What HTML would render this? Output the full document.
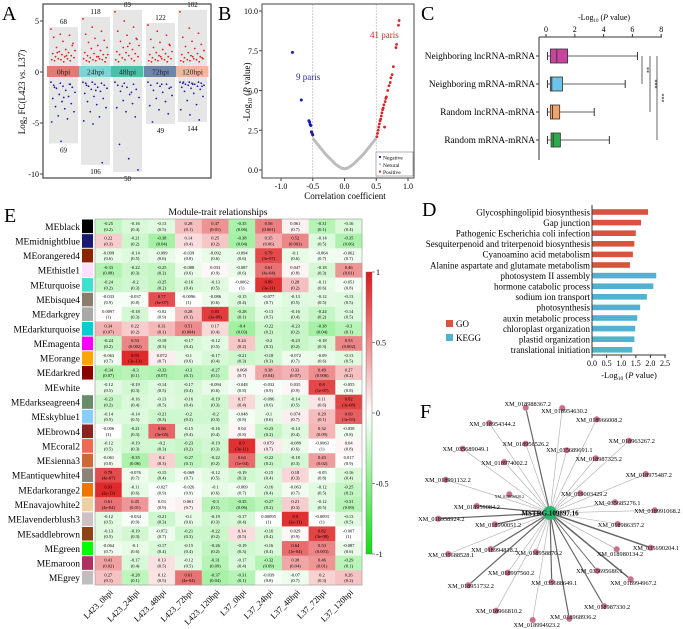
<!DOCTYPE html>
<html><head><meta charset="utf-8"><style>
html,body{margin:0;padding:0;background:#fff;}
svg{display:block;font-family:"Liberation Serif",serif;}
</style></head><body>
<svg id="fig" width="683" height="629" viewBox="0 0 683 629" xmlns="http://www.w3.org/2000/svg"></svg>
<script>
// ---------- Panel A data ----------
const aGroups=["0hpi","24hpi","48hpi","72hpi","120hpi"];
const aUpCounts=[68,118,89,122,102];
const aDownCounts=[69,106,58,49,144];
const aUp0=[4.2,3.7,3.6,3.4,3.0,2.6,2.4,2.2,2.1,2.0,1.9,1.8,1.7,1.6,1.5,1.5,1.4,1.3,1.3,1.2,1.2,1.1,1.1,1.0,2.8,1.9,1.6];
const aDown0=[-1.0,-1.1,-1.2,-1.3,-1.4,-1.5,-1.6,-1.8,-2.0,-2.2,-2.4,-2.6,-2.9,-3.1,-3.4,-3.6,-3.9,-4.3,-4.6,-4.9,-6.8,-1.2,-1.5,-2.5];
const aUp1=[5.2,4.4,4.0,3.7,3.3,3.1,2.9,2.6,2.4,2.3,2.1,1.9,1.8,1.7,1.6,1.5,1.4,1.4,1.3,1.3,1.2,1.2,1.1,1.1,1.0,1.0,1.5,1.7];
const aDown1=[-1.0,-1.0,-1.1,-1.1,-1.2,-1.3,-1.4,-1.5,-1.6,-1.7,-1.9,-2.1,-2.4,-2.6,-2.9,-3.2,-3.5,-3.9,-4.4,-4.8,-5.1,-8.9,-1.3,-1.8];
const aUp2=[5.9,5.0,4.4,4.0,3.6,3.3,3.0,2.8,2.6,2.4,2.2,2.0,1.9,1.8,1.7,1.6,1.5,1.4,1.3,1.2,1.2,1.1,1.0,2.5,3.2];
const aDown2=[-1.0,-1.1,-1.2,-1.3,-1.5,-1.7,-1.9,-2.2,-2.5,-2.8,-3.1,-3.5,-3.9,-4.4,-7.1,-8.5,-9.6,-1.4,-2.0];
const aUp3=[4.6,4.0,3.6,3.2,2.9,2.7,2.4,2.2,2.0,1.9,1.8,1.7,1.6,1.5,1.4,1.3,1.3,1.2,1.2,1.1,1.1,1.0,1.0,1.5,2.6];
const aDown3=[-1.0,-1.1,-1.2,-1.3,-1.4,-1.6,-1.8,-2.0,-2.3,-2.6,-2.9,-3.3,-3.7,-4.1,-4.9,-1.2,-1.5];
const aUp4=[5.9,4.3,3.8,3.4,3.0,2.7,2.5,2.3,2.1,1.9,1.8,1.7,1.6,1.5,1.4,1.3,1.3,1.2,1.2,1.1,1.1,1.0,1.0,1.5,1.4];
const aDown4=[-1.0,-1.0,-1.0,-1.1,-1.1,-1.1,-1.2,-1.2,-1.3,-1.3,-1.4,-1.5,-1.6,-1.7,-1.9,-2.1,-2.4,-2.8,-3.2,-3.7,-4.2,-4.7,-1.0,-1.2,-1.4];
const aTicks=[5,0,-5,-10];
// ---------- Panel B data ----------
const bNeutralR=[-0.5,-0.45,-0.4,-0.35,-0.3,-0.25,-0.2,-0.15,-0.1,-0.05,0,0.05,0.1,0.15,0.2,0.25,0.3,0.35,0.4,0.45,0.5];
const bNeutralP=[2.0,1.75,1.5,1.25,1.0,0.8,0.6,0.4,0.25,0.12,0.08,0.12,0.25,0.4,0.6,0.8,1.0,1.25,1.5,1.75,2.0];
const bNegR=[-0.82,-0.68,-0.56,-0.55,-0.54,-0.53,-0.52,-0.51,-0.5];
const bNegP=[7.4,4.4,3.1,3.0,2.85,2.8,2.4,2.3,2.2];
const bPosR=[0.51,0.52,0.53,0.54,0.55,0.56,0.57,0.58,0.59,0.6,0.61,0.62,0.63,0.64,0.65,0.66,0.68,0.7,0.72,0.73,0.75,0.77,0.81,0.82,0.85,0.86];
const bPosP=[2.1,2.3,2.5,2.7,2.9,3.1,3.2,3.4,3.6,3.8,3.9,4.1,2.7,4.3,4.5,4.6,5.0,5.3,5.5,5.8,6.0,6.5,7.7,7.9,9.1,9.4];
const bXTicks=[-1.0,-0.5,0.0,0.5,1.0];
const bYTicks=[0,2.5,5,7.5,10];
// ---------- Panel C data ----------
const cCats=["Neighboring lncRNA-mRNA","Neighboring mRNA-mRNA","Random lncRNA-mRNA","Random mRNA-mRNA"];
const cMin=[0.1,0.1,0.1,0.1];
const cQ1=[0.3,0.3,0.3,0.35];
const cMed=[0.75,0.4,0.45,0.5];
const cQ3=[1.5,1.15,0.95,1.0];
const cMax=[6.35,5.5,3.35,4.4];
const cTicks=[0,2,4,6,8];
const cSig=["**","***","***"];
// ---------- Panel D data ----------
const dTerms=["Glycosphingolipid biosynthesis","Gap junction","Pathogenic Escherichia coli infection","Sesquiterpenoid and triterpenoid biosynthesis","Cyanoamino acid metabolism","Alanine aspartate and glutamate metabolism","photosystem II assembly","hormone catabolic process","sodium ion transport","photosynthesis","auxin metabolic process","chloroplast organization","plastid organization","translational initiation"];
const dValues=[1.92,1.68,1.5,1.45,1.4,1.3,2.2,2.1,1.88,1.65,1.55,1.48,1.45,1.38];
const dTypes=["KEGG","KEGG","KEGG","KEGG","KEGG","KEGG","GO","GO","GO","GO","GO","GO","GO","GO"];
const dTicks=[0,0.5,1,1.5,2,2.5];
// ---------- Panel E data ----------
const eModules=["MEblack","MEmidnightblue","MEorangered4","MEthistle1","MEturquoise","MEbisque4","MEdarkgrey","MEdarkturquoise","MEmagenta","MEorange","MEdarkred","MEwhite","MEdarkseagreen4","MEskyblue1","MEbrown4","MEcoral2","MEsienna3","MEantiquewhite4","MEdarkorange2","MEnavajowhite2","MElavenderblush3","MEsaddlebrown","MEgreen","MEmaroon","MEgrey"];
const eSwatch=["#000000","#191970","#8b2500","#ffe1ff","#40e0d0","#8b7d6b","#a9a9a9","#00ced1","#ff00ff","#ffa500","#8b0000","#ffffff","#698b69","#87ceff","#8b2323","#ee6a50","#cd6839","#8b8378","#ee7600","#eecfa1","#cdc1c5","#8b4513","#00ff00","#b03060","#bebebe"];
const eTraits=["L423_0hpi","L423_24hpi","L423_48hpi","L423_72hpi","L423_120hpi","L37_0hpi","L37_24hpi","L37_48hpi","L37_72hpi","L37_120hpi"];
const eCorr=[
[-0.25,-0.16,-0.13,0.28,0.47,-0.35,0.56,0.061,-0.31,-0.16],
[0.22,-0.21,-0.38,0.14,0.25,-0.38,0.35,0.52,-0.14,-0.35],
[-0.099,-0.14,-0.099,-0.039,-0.092,-0.094,0.79,-0.1,-0.064,-0.062],
[-0.33,-0.22,-0.25,-0.088,0.033,-0.087,0.61,0.047,-0.18,0.46],
[-0.24,-0.2,-0.25,-0.16,-0.13,-0.0062,0.89,0.28,-0.11,-0.051],
[-0.033,-0.037,0.77,-0.0096,-0.086,-0.15,-0.077,-0.13,-0.12,-0.13],
[0.0097,-0.18,-0.02,0.28,0.85,-0.28,-0.13,-0.16,-0.24,-0.14],
[0.34,0.22,0.31,0.51,0.17,-0.4,-0.22,-0.23,-0.38,-0.3],
[-0.24,0.53,-0.18,-0.17,-0.12,0.24,-0.2,-0.23,-0.18,0.53],
[-0.063,0.93,0.072,-0.1,-0.17,-0.21,-0.18,-0.072,-0.09,-0.13],
[-0.34,-0.3,-0.33,-0.3,-0.27,0.068,0.38,0.33,0.49,0.27],
[-0.12,-0.19,-0.14,-0.17,-0.094,-0.048,-0.032,0.035,0.8,-0.055],
[-0.23,-0.16,-0.13,-0.16,-0.19,0.17,-0.096,-0.14,0.11,0.82],
[-0.14,-0.14,-0.21,-0.2,-0.2,-0.048,-0.1,0.074,0.29,0.69],
[-0.006,-0.21,0.66,-0.15,-0.16,0.04,-0.23,-0.14,0.32,-0.058],
[-0.12,-0.19,-0.2,-0.23,-0.19,0.9,0.079,-0.089,-0.0063,0.04],
[-0.061,-0.35,0.2,-0.27,-0.22,0.64,-0.22,-0.18,0.43,0.017],
[0.78,-0.076,-0.15,-0.069,-0.12,-0.19,-0.15,0.18,-0.05,-0.16],
[0.93,-0.11,-0.027,-0.026,-0.1,-0.069,-0.16,-0.063,-0.12,-0.25],
[0.61,0.45,0.03,0.061,-0.3,-0.35,-0.27,0.21,-0.12,-0.31],
[-0.12,-0.034,-0.21,-0.1,-0.19,-0.17,0.00095,0.9,-0.0093,-0.13],
[-0.13,-0.19,-0.072,-0.21,-0.22,0.14,-0.16,0.029,0.82,-0.007],
[-0.064,-0.1,-0.17,-0.15,-0.26,-0.19,-0.16,0.64,0.53,-0.087],
[0.41,-0.17,0.13,-0.12,-0.31,-0.17,-0.32,0.38,0.46,-0.29],
[0.27,-0.28,0.12,0.61,-0.37,-0.31,-0.039,-0.07,0.2,0.26]];
const ePval=[
["0.2","0.4","0.5","0.1","0.01","0.06","0.001","0.7","0.1","0.4"],
["0.3","0.2","0.04","0.4","0.2","0.04","0.06","0.003","0.5","0.06"],
["0.6","0.5","0.6","0.8","0.6","0.6","3e-07","0.6","0.7","0.7"],
["0.08","0.3","0.2","0.6","0.9","0.6","4e-04","0.8","0.3","0.01"],
["0.2","0.3","0.2","0.4","0.5","1","3e-11","0.2","0.6","0.8"],
["0.9","0.8","6e-07","1","0.6","0.4","0.7","0.5","0.5","0.5"],
["1","0.3","0.9","0.1","3e-09","0.1","0.5","0.4","0.2","0.5"],
["0.07","0.2","0.1","0.004","0.4","0.03","0.2","0.2","0.04","0.1"],
["0.2","0.002","0.3","0.4","0.5","0.2","0.3","0.2","0.3","0.002"],
["0.7","3e-13","0.7","0.6","0.4","0.3","0.3","0.7","0.6","0.5"],
["0.07","0.1","0.07","0.1","0.1","0.7","0.04","0.07","0.006","0.2"],
["0.5","0.3","0.5","0.4","0.6","0.8","0.9","0.9","1e-07","0.8"],
["0.2","0.4","0.5","0.4","0.3","0.4","0.6","0.5","0.6","3e-08"],
["0.5","0.5","0.3","0.3","0.3","0.8","0.6","0.7","0.1","3e-05"],
["1","0.3","3e-05","0.4","0.4","0.8","0.2","0.4","0.09","0.8"],
["0.5","0.3","0.3","0.2","0.3","3e-11","0.7","0.6","1","0.8"],
["0.8","0.06","0.3","0.1","0.2","1e-04","0.2","0.3","0.02","0.9"],
["4e-07","0.7","0.4","0.7","0.5","0.3","0.4","0.3","0.8","0.4"],
["2e-13","0.6","0.9","0.9","0.6","0.7","0.4","0.7","0.5","0.2"],
["4e-04","0.01","0.9","0.7","0.1","0.06","0.2","0.3","0.5","0.09"],
["0.5","0.9","0.3","0.6","0.3","0.4","1","2e-11","1","0.5"],
["0.5","0.3","0.7","0.3","0.2","0.5","0.4","0.9","3e-08","1"],
["0.7","0.6","0.4","0.4","0.2","0.3","0.4","1e-04","0.003","0.6"],
["0.02","0.4","0.5","0.5","0.09","0.4","0.09","0.04","0.01","0.1"],
["0.1","0.1","0.5","4e-04","0.04","0.1","0.8","0.7","0.3","0.2"]];
const eBarTicks=[1,0.5,0,-0.5,-1];
// ---------- Panel F data ----------
const fHub="MSTRG.109897.16";
const fNodes=["XM_018988367.2","XM_018954630.2","XM_018966008.2","XM_018954344.2","XM_018963267.2","XM_035689049.1","XM_018956526.2","XM_035689691.1","XM_018987325.2","XM_018974002.2","XM_018975487.2","XM_018991132.2","XM_018956920.2","XM_019003429.2","XM_035685276.1","XM_018959084.2","XM_018991068.2","XM_018958924.2","XM_018990051.2","XM_018986357.2","XM_035690204.1","XM_018980134.2","XM_018994818.2","XM_018958870.2","XM_035688528.1","XM_018997560.2","XM_035695686.1","XM_018994967.2","XM_018951732.2","XM_035688649.1","XM_018987330.2","XM_018966810.2","XM_018968936.2","XM_018994923.2"];
const fWeights=[2,1,1,1,1,1,1,1,1,1,1,1,1,1,1,2,1,2,2,1,2.5,1,2,1,1,1,1.5,2.5,2,2,2,1,2,1];

const svg=document.getElementById('fig');
const NS="http://www.w3.org/2000/svg";
function mk(tag,attrs,parent,txt){const e=document.createElementNS(NS,tag);for(const k in attrs)e.setAttribute(k,attrs[k]);if(txt!==undefined)e.textContent=txt;(parent||svg).appendChild(e);return e;}
function grp(name){const g=mk('g',{});


return g;}

// ================= PANEL A =================
(function(){
const g=grp('panel-a-scatter');
const yA=v=>72-v*10.2;
const colL=[49,81,113,146,178],colW=29;
const stripColors=["#e07b73","#7fd3d6","#4bbfa8","#6f86ab","#f1b5a0"];
const ups=[aUp0,aUp1,aUp2,aUp3,aUp4],downs=[aDown0,aDown1,aDown2,aDown3,aDown4];
const pl=mk('text',{x:2,y:20,'font-size':20},g,'A');


for(let c=0;c<5;c++){
  const top=Math.max(...ups[c])+0.2,bot=Math.min(...downs[c])-0.2;
  const bg=mk('rect',{x:colL[c],y:yA(top),width:colW,height:yA(bot)-yA(top),fill:'#e6e6e6'},g);
  
  
  ups[c].forEach((v,i)=>{const p=mk('circle',{cx:colL[c]+2+((i*37)%100)/100*(colW-4),cy:yA(v),r:0.9,fill:'#e0201c'},g);
    
    });
  downs[c].forEach((v,i)=>{const p=mk('circle',{cx:colL[c]+2+((i*37)%100)/100*(colW-4),cy:yA(v),r:0.9,fill:'#1c1ca8'},g);
    
    });
  const t1=mk('text',{x:colL[c]+colW/2,y:yA(top)-3,'font-size':7,'text-anchor':'middle'},g,String(aUpCounts[c]));
  
  
  const t2=mk('text',{x:colL[c]+colW/2,y:yA(bot)+9,'font-size':7,'text-anchor':'middle'},g,String(aDownCounts[c]));
  
  
  const sr=mk('rect',{x:c===0?47:colL[c]-2,y:66,width:c===0?34:32.5,height:11,fill:stripColors[c]},g);
  
  
  const st=mk('text',{x:colL[c]+colW/2,y:74.5,'font-size':7.5,'text-anchor':'middle',fill:'#222'},g,aGroups[c]);
  
  
}
const fr=mk('rect',{x:43,y:4,width:168,height:174,fill:'none',stroke:'#444','stroke-width':1.2},g);


aTicks.forEach(t=>{mk('line',{x1:40,x2:43,y1:yA(t),y2:yA(t),stroke:'#444'},g);
  const tl=mk('text',{x:39,y:yA(t)+3,'font-size':8,'text-anchor':'end'},g,String(t));
  
  });
const yt=mk('text',{x:0,y:0,'font-size':9,'text-anchor':'middle',transform:'translate(25,92) rotate(-90)'},g);


mk('tspan',{},yt,'Log');mk('tspan',{'font-size':6,dy:2},yt,'2');mk('tspan',{dy:-2},yt,' FC(L423 ');mk('tspan',{'font-style':'italic'},yt,'vs.');mk('tspan',{},yt,' L37)');
})();

// ================= PANEL B =================
(function(){
const g=grp('panel-b-volcano');
const x=r=>344.5+r*63.5,y=p=>170-p*15.9;
const pl=mk('text',{x:218,y:20,'font-size':20},g,'B');


[-0.5,0.5].forEach(v=>{const l=mk('line',{x1:x(v),x2:x(v),y1:4,y2:178,stroke:'#bbb','stroke-width':0.7,'stroke-dasharray':'2,1'},g);
  
  });
const pts=bNeutralR.map((r,i)=>x(r)+','+y(bNeutralP[i])).join(' ');
const nl=mk('polyline',{points:pts,fill:'none',stroke:'#bdbdbd','stroke-width':3,'stroke-linejoin':'round'},g);


bNegR.forEach((r,i)=>{const c=mk('circle',{cx:x(r),cy:y(bNegP[i]),r:1.5,fill:'#1c1ca8'},g);
  
  });
bPosR.forEach((r,i)=>{const c=mk('circle',{cx:x(r),cy:y(bPosP[i]),r:1.4,fill:'#d7262a'},g);
  
  });
const fr=mk('rect',{x:262,y:4,width:152,height:174,fill:'none',stroke:'#444','stroke-width':1},g);


bXTicks.forEach(t=>{mk('line',{x1:x(t),x2:x(t),y1:178,y2:181,stroke:'#444'},g);
  const tl=mk('text',{x:x(t),y:189,'font-size':8,'text-anchor':'middle'},g,t.toFixed(1));
  
  });
bYTicks.forEach(t=>{mk('line',{x1:259,x2:262,y1:y(t),y2:y(t),stroke:'#444'},g);
  const tl=mk('text',{x:258,y:y(t)+3,'font-size':8,'text-anchor':'end'},g,t.toFixed(1));
  
  });
const xt=mk('text',{x:345,y:199,'font-size':9,'text-anchor':'middle'},g,'Correlation coefficient');


const yt=mk('text',{x:0,y:0,'font-size':9,'text-anchor':'middle',transform:'translate(250,92) rotate(-90)'},g);


mk('tspan',{},yt,'-Log');mk('tspan',{'font-size':6,dy:2},yt,'10');mk('tspan',{dy:-2},yt,' (');mk('tspan',{'font-style':'italic'},yt,'P');mk('tspan',{},yt,' value)');
const a1=mk('text',{x:296,y:80,'font-size':9,fill:'#2a2aa8'},g,'9 paris');


const a2=mk('text',{x:370,y:38,'font-size':9,fill:'#d7262a'},g,'41 paris');


const lg=mk('rect',{x:376,y:152,width:37,height:24,fill:'#fff',stroke:'#666','stroke-width':0.5},g);


[["Negative","#1c1ca8"],["Netural","#bdbdbd"],["Positive","#d7262a"]].forEach((d,i)=>{
  mk('circle',{cx:380,cy:157+i*7.3,r:1.1,fill:d[1]},g);
  const t=mk('text',{x:383,y:159.5+i*7.3,'font-size':5.5},g,d[0]);
  
  });
})();

// ================= PANEL C =================
(function(){
const g=grp('panel-c-boxplot');
const x=v=>546+v*14.4;
const rowY=[56,84,112,140];
const cols=["#c9459c","#6ec3ea","#f0a26a","#2faa4a"];
const pl=mk('text',{x:421,y:20,'font-size':20},g,'C');


const tt=mk('text',{x:604,y:20,'font-size':8,'text-anchor':'middle'},g);


mk('tspan',{},tt,'-Log');mk('tspan',{'font-size':5,dy:2},tt,'10');mk('tspan',{dy:-2},tt,' (');mk('tspan',{'font-style':'italic'},tt,'P');mk('tspan',{},tt,' value)');
mk('line',{x1:539,x2:662,y1:37,y2:37,stroke:'#333'},g);
mk('line',{x1:539,x2:539,y1:37,y2:160,stroke:'#333'},g);
cTicks.forEach(t=>{mk('line',{x1:x(t),x2:x(t),y1:34,y2:37,stroke:'#333'},g);
  const tl=mk('text',{x:x(t),y:32,'font-size':8,'text-anchor':'middle'},g,String(t));
  
  });
cCats.forEach((c,i)=>{
  const cy=rowY[i];
  const lab=mk('text',{x:535,y:cy+3,'font-size':9.3,'text-anchor':'end'},g,c);
  
  
  mk('line',{x1:536,x2:539,y1:cy,y2:cy,stroke:'#333'},g);
  mk('line',{x1:x(cMin[i]),x2:x(cMax[i]),y1:cy,y2:cy,stroke:'#333','stroke-width':0.8},g);
  mk('line',{x1:x(cMin[i]),x2:x(cMin[i]),y1:cy-4,y2:cy+4,stroke:'#333'},g);
  mk('line',{x1:x(cMax[i]),x2:x(cMax[i]),y1:cy-4,y2:cy+4,stroke:'#333'},g);
  const b=mk('rect',{x:x(cQ1[i]),y:cy-7,width:x(cQ3[i])-x(cQ1[i]),height:14,fill:cols[i],stroke:'#333','stroke-width':0.8},g);
  
  
  mk('line',{x1:x(cMed[i]),x2:x(cMed[i]),y1:cy-7,y2:cy+7,stroke:'#333','stroke-width':0.9},g);
});
const sx=[642,650,657],sy1=[56,56,56],sy2=[84,112,140];
cSig.forEach((s,i)=>{
  mk('line',{x1:sx[i],x2:sx[i],y1:sy1[i],y2:sy2[i],stroke:'#555','stroke-width':0.9},g);
  const t=mk('text',{x:sx[i]+3,y:(sy1[i]+sy2[i])/2,'font-size':6,transform:`rotate(90 ${sx[i]+3} ${(sy1[i]+sy2[i])/2})`,'text-anchor':'middle'},g,s);
  
  
});
})();

// ================= PANEL D =================
(function(){
const g=grp('panel-d-enrichment');
const x=v=>592+v*29.2;
const y0=212,step=10.6;
const pl=mk('text',{x:422,y:216,'font-size':20},g,'D');


dTerms.forEach((t,i)=>{
  const cy=y0+i*step;
  const lab=mk('text',{x:590,y:cy+3.3,'font-size':9,'text-anchor':'end'},g,t);
  
  
  const b=mk('rect',{x:x(0),y:cy-2.8,width:x(dValues[i])-x(0),height:5.6,fill:dTypes[i]==="KEGG"?'#d9533f':'#4fb3d0'},g);
  
  
});
mk('line',{x1:592,x2:592,y1:205,y2:355,stroke:'#333'},g);
mk('line',{x1:592,x2:666,y1:355,y2:355,stroke:'#333'},g);
dTicks.forEach(t=>{mk('line',{x1:x(t),x2:x(t),y1:355,y2:358,stroke:'#333'},g);
  const tl=mk('text',{x:x(t),y:366,'font-size':8,'text-anchor':'middle'},g,t.toFixed(1));
  
  });
const xt=mk('text',{x:629,y:378,'font-size':8.5,'text-anchor':'middle'},g);


mk('tspan',{},xt,'-Log');mk('tspan',{'font-size':5.5,dy:2},xt,'10');mk('tspan',{dy:-2},xt,' (');mk('tspan',{'font-style':'italic'},xt,'P');mk('tspan',{},xt,' value)');
[["GO","#d9533f",326],["KEGG","#4fb3d0",340]].forEach(d=>{
  mk('rect',{x:446,y:d[2]-6,width:7,height:7,fill:d[1]},g);
  const t=mk('text',{x:456,y:d[2]+1,'font-size':9},g,d[0]);
  
  });
})();

// ================= PANEL E =================
(function(){
const g=grp('panel-e-heatmap');
const gx=95,gy=219,cw=26.7,rh=14.64;
const pl=mk('text',{x:4,y:222,'font-size':20},g,'E');


const tt=mk('text',{x:218,y:215,'font-size':9.5,'text-anchor':'middle'},g,'Module-trait relationships');


function col(v){
  if(v>=0){const r=255-v*(255-220),gg=255-v*(255-26),b=255-v*(255-28);return `rgb(${r|0},${gg|0},${b|0})`;}
  const a=-v;return `rgb(${(255-a*235)|0},${(255-a*35)|0},${(255-a*235)|0})`;}
eModules.forEach((m,i)=>{
  const ry=gy+i*rh;
  const lab=mk('text',{x:80,y:ry+rh/2+3.5,'font-size':9.5,'text-anchor':'end'},g,m);
  
  
  const sw=mk('rect',{x:82,y:ry+0.5,width:11,height:rh-1,fill:eSwatch[i]},g);
  
  
  eCorr[i].forEach((v,j)=>{
    const cx=gx+j*cw;
    const c=mk('rect',{x:cx,y:ry,width:cw+0.3,height:rh+0.3,fill:col(v)},g);
    
    
    const t1=mk('text',{x:cx+cw/2,y:ry+6,'font-size':4.5,'text-anchor':'middle'},g,String(v));
    
    
    const t2=mk('text',{x:cx+cw/2,y:ry+11.8,'font-size':4.5,'text-anchor':'middle'},g,'('+ePval[i][j]+')');
    
    
  });
});
const fr=mk('rect',{x:gx,y:gy,width:cw*10,height:rh*eModules.length,fill:'none',stroke:'#999','stroke-width':0.6},g);


eTraits.forEach((t,j)=>{
  const cx=gx+j*cw+cw/2+5, cy=gy+rh*eModules.length+8;
  const tl=mk('text',{x:cx,y:cy,'font-size':8.5,'text-anchor':'end',transform:`rotate(-45 ${cx} ${cy})`},g,t);
  
  
});
// colorbar
const cbY=v=>413-v*141;
const defs=mk('defs',{},g);
const lgd=mk('linearGradient',{id:'cb',x1:0,y1:0,x2:0,y2:1},defs);
mk('stop',{offset:'0','stop-color':col(1)},lgd);
mk('stop',{offset:'0.5','stop-color':'#fff'},lgd);
mk('stop',{offset:'1','stop-color':col(-1)},lgd);
const cb=mk('rect',{x:366,y:cbY(1),width:6,height:cbY(-1)-cbY(1),fill:'url(#cb)',stroke:'#666','stroke-width':0.4},g);


eBarTicks.forEach(t=>{mk('line',{x1:372,x2:375,y1:cbY(t),y2:cbY(t),stroke:'#444','stroke-width':0.6},g);
  const tl=mk('text',{x:376,y:cbY(t)+3,'font-size':8},g,String(t));
  
  });
})();

// ================= PANEL F =================
(function(){
const g=grp('panel-f-network');
const hub=[550,513];
// layout positions of nodes (network layout, not data)
const pos=[[525.7,407.7],[562.3,408],[596.7,419.3],[489.3,423],[629,440.7],[462.7,448.7],[525.7,443.7],[566.7,450.3],[595.7,458.3],[504.3,462],[645.7,474],[445.7,479.7],[509.3,494.3],[580.3,493.3],[615,502.3],[476.7,506],[654.7,510.3],[438.3,518.7],[495,524.3],[617.7,524],[650.7,547.7],[616.7,549.3],[490.7,549],[536,552],[448.3,554],[507.7,572.7],[597.3,570.7],[630.7,579.3],[468.3,585.3],[551.7,582],[604,606],[496,610.7],[569.3,618.7],[532.7,620]];
const lab=[[527.7,404],[564.3,411],[599,420],[492.3,424],[631.7,441],[465.7,449],[525.7,444],[569.3,450],[598.7,459],[504.3,463],[648.7,475],[447.7,480],[509.3,496],[584,494],[617.3,503],[476.7,507],[657.3,511],[441.3,519],[498,525],[621,525],[656,548],[620,554],[494.3,550],[539,553],[451,555],[511,573],[599.3,571],[633.3,583],[470.7,586],[554,583],[607,607],[498.7,611],[573,617],[536.7,625]];
const pl=mk('text',{x:420,y:418,'font-size':20},g,'F');


fNodes.forEach((n,i)=>{
  const e=mk('line',{x1:hub[0],y1:hub[1],x2:pos[i][0],y2:pos[i][1],stroke:fWeights[i]>1?'#666':'#aaa','stroke-width':fWeights[i]*0.6},g);
  
  });
fNodes.forEach((n,i)=>{
  const c=mk('circle',{cx:pos[i][0],cy:pos[i][1],r:3,fill:'#c9708e',stroke:'#e8b0c2','stroke-width':0.5},g);
  
  
  const t=mk('text',{x:lab[i][0],y:lab[i][1]+2,'font-size':i===12?4:6.3,'text-anchor':'middle'},g,n);
  
  });
const h=mk('circle',{cx:hub[0],cy:hub[1],r:7,fill:'#2db56f'},g);


const ht=mk('text',{x:hub[0],y:hub[1]+2.5,'font-size':7,'font-weight':'bold','text-anchor':'middle'},g,fHub);


})();
</script>
</body></html>
